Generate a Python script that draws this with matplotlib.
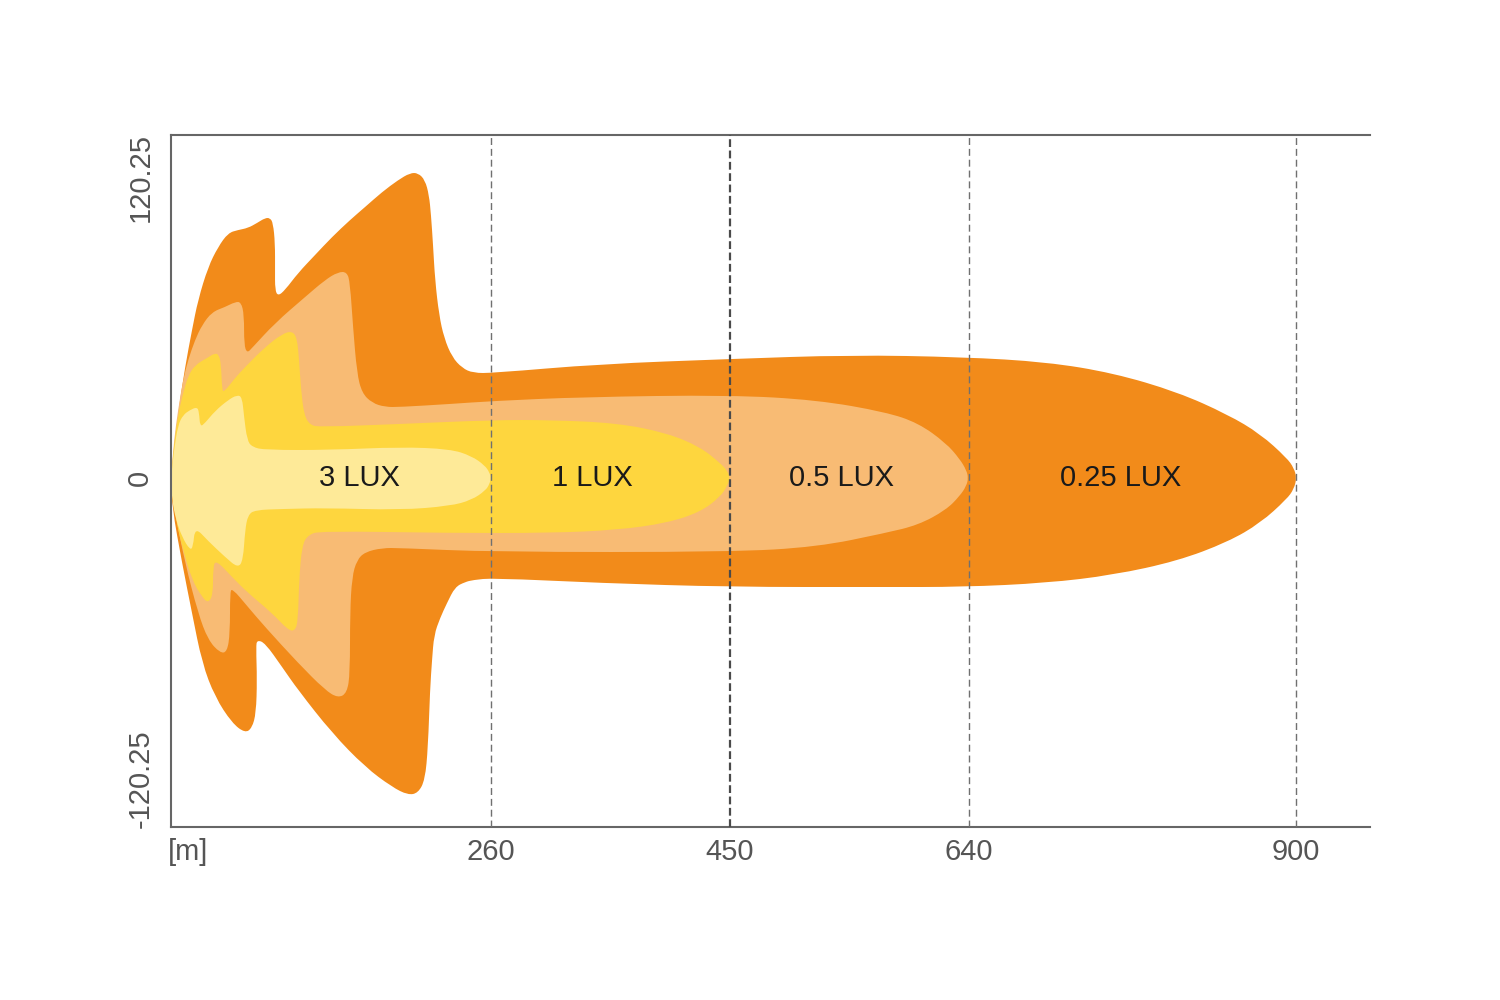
import matplotlib
matplotlib.use("Agg")
import matplotlib.pyplot as plt
from matplotlib.path import Path
from matplotlib.patches import PathPatch

# ---- data (metres: x = distance, y = lateral) ----
levels = ["0.25 LUX", "0.5 LUX", "1 LUX", "3 LUX"]
colors = ["#F28B1A", "#F8BB74", "#FED63E", "#FEEA98"]
reach = [900, 640, 450, 260]

# 0.25 lux outline (upper edge left->tip, then lower edge tip->left)
x_025 = [6.0, 6.8, 11.6, 17.2, 22.7, 27.5, 35.5, 43.4, 51.4, 59.3, 67.2, 74.4, 80.8, 84.7, 87.1,
         88.7, 88.7, 88.7, 91.1, 96.7, 107.0, 120.5, 134.0, 148.3, 160.3, 173.8, 186.6, 196.0,
         202.4, 207.9, 211.1, 212.7, 214.3, 215.9, 219.1, 223.1, 229.4, 237.4, 246.1, 262,
         347.1, 450.4, 545.8, 635.6, 702, 755, 806, 846, 872, 893, 898.6, 900.8, 898.6,
         893, 872, 846, 806, 755, 702, 635.6, 569.6, 450.4, 347.1, 262, 246.1, 239.8, 231.8,
         225.4, 219.9, 215.1, 213.5, 211.9, 210.3, 207.9, 202.4, 194.4, 181.7, 160.3, 134.0,
         107.0, 94.3, 80.8, 74.4, 73.6, 74.4, 73.6, 70.4, 64.9, 54.5, 41.0, 30.7, 22.7, 14.8, 6.8]
y_025 = [0, 2.0, 26.0, 44.4, 59.2, 71.2, 84.4, 92.4, 98.0, 99.2, 100.0, 102.0, 104.0, 104.0, 102.0,
         94.0, 83.2, 75.2, 72.8, 75.2, 82.0, 89.2, 96.4, 103.2, 108.4, 114.4, 119.2, 122.0,
         122.0, 119.2, 113.2, 105.2, 93.2, 79.2, 65.2, 56.0, 48.4, 44.0, 42.0, 42.0,
         45.6, 47.6, 49.2, 48.4, 46.4, 42.0, 34.4, 25.4, 17.6, 8.0, 4.0, 0, -4.4,
         -8.4, -18.0, -25.6, -33.2, -38.8, -42.0, -43.6, -43.6, -43.6, -42.0, -40.0, -40.8, -41.6, -43.6,
         -50.0, -56.0, -62.8, -72.8, -84.8, -107.6, -120.8, -126.0, -126.8, -123.6, -115.6, -102.0,
         -84.8, -75.6, -66.0, -64.8, -67.6, -80.8, -94.0, -100.0, -102.0, -98.0, -87.6, -74.0, -54.0, -34.0, -11.6]

# 0.5 lux outline
x_05 = [6.0, 8.4, 11.6, 15.6, 19.6, 25.1, 30.7, 38.6, 49.0, 56.9, 61.7, 64.1, 64.1, 66.5, 70.4,
        88.7, 112.6, 128.4, 138.8, 145.9, 148.3, 150.7, 153.8, 157.8, 165.9, 176.2, 188.1, 227.8,
        262, 333.5, 450.4, 519.6, 574, 600, 622, 633, 638.2, 639.8, 638.2,
        633, 622, 600, 574, 519.6, 450.4, 262, 188.1, 173.8, 160.3, 153.8, 149.9, 148.3, 148.3,
        145.9, 138.8, 128.4, 107.0, 80.8, 67.2, 54.5, 52.9, 52.9, 50.6, 45.0, 35.5, 27.5, 17.2, 9.2]
y_05 = [0, 15.2, 27.2, 39.2, 47.2, 55.2, 61.2, 66.4, 68.4, 70.4, 70.4, 65.2, 53.2, 50.0, 52.0,
        62.0, 72.4, 79.2, 82.4, 82.4, 78.0, 60.4, 42.0, 34.0, 30.0, 28.4, 28.4, 29.6,
        30.8, 32.4, 33.2, 31.2, 26.4, 22.0, 14.0, 7.6, 3.2, 0, -3.2,
        -7.2, -12.8, -18.8, -22.0, -27.6, -29.6, -29.6, -28.0, -28.0, -29.6, -32.8, -39.6, -54.0, -78.0,
        -86.0, -88.0, -84.8, -74.0, -59.6, -51.6, -44.0, -46.0, -62.0, -69.6, -70.0, -64.8, -54.0, -34.0, -14.0]

# 1 lux outline
x_1 = [6.0, 8.4, 11.6, 15.6, 19.6, 25.1, 34.7, 41.0, 44.2, 45.8, 46.6, 48.2, 56.9, 64.9, 80.8,
       94.3, 102.2, 106.2, 107.8, 109.4, 111.8, 116.5, 124.5, 188.1, 262, 307.3, 360.6, 400.3,
       426.7, 442.5, 448.4, 450.2, 448.4,
       442.5, 426.7, 400.3, 360.6, 307.3, 227.8, 124.5, 115.0, 110.2, 107.8, 107.0, 104.6, 99.0,
       86.3, 67.2, 54.5, 41.8, 39.4, 39.4, 35.5, 30.7, 22.7, 14.8, 9.2]
y_1 = [0, 13.2, 25.2, 34.0, 40.8, 45.2, 48.0, 50.0, 49.2, 45.2, 35.2, 34.4, 40.0, 44.4, 52.4,
       57.6, 58.8, 56.0, 47.2, 35.2, 25.2, 21.2, 20.4, 21.6, 23.2, 23.2, 22.0, 18.0,
       12.4, 6.0, 2.8, 0, -3.0,
       -7.6, -13.6, -18.0, -20.8, -22.0, -22.0, -21.2, -22.8, -26.8, -40.8, -56.8, -61.2, -60.8,
       -54.0, -46.0, -39.6, -32.8, -35.6, -46.8, -50.0, -47.6, -40.8, -27.6, -14.8]

# 3 lux outline
x_3 = [6.0, 8.4, 11.6, 15.6, 21.1, 26.7, 28.3, 29.1, 33.1, 41.0, 51.4, 58.5, 62.5, 64.1, 66.5,
       70.4, 80.8, 132.4, 188.1, 227.8, 245, 255.5, 259.2, 260.3, 259.2,
       256, 245, 227.8, 188.1, 128.4, 94.3, 72.8, 67.2, 64.9, 63.3, 59.3, 49.0, 35.5, 25.1,
       23.5, 21.1, 14.8, 10.0, 6.8]
y_3 = [0, 11.2, 21.2, 25.2, 27.2, 28.4, 26.4, 20.4, 22.0, 26.8, 31.2, 33.2, 32.4, 24.4, 15.2,
       12.4, 11.2, 11.2, 12.4, 11.6, 8.8, 5.0, 2.2, 0, -2.4,
       -5.0, -8.8, -11.2, -12.8, -12.0, -12.4, -12.8, -14.8, -20.8, -32.8, -36.0, -31.6, -25.2, -19.6,
       -27.6, -28.8, -23.6, -16.8, -8.8]

outlines = [(x_025, y_025), (x_05, y_05), (x_1, y_1), (x_3, y_3)]
label_x = [761, 539, 341, 156]

x_ticks = [260, 450, 640, 900]
y_ticks = [-120.25, 0, 120.25]
y_tick_labels = ["-120.25", "0", "120.25"]


def rounded_outline(xs, ys):
    """Closed outline drawn with quadratic Bezier segments, using the read
    points as control points (rounds the corners like the original)."""
    pts = list(zip(xs, ys))
    n = len(pts)
    mids = [((pts[i][0] + pts[(i + 1) % n][0]) / 2, (pts[i][1] + pts[(i + 1) % n][1]) / 2)
            for i in range(n)]
    verts = [mids[-1]]
    codes = [Path.MOVETO]
    for i in range(n):
        verts += [pts[i], mids[i]]
        codes += [Path.CURVE3, Path.CURVE3]
    verts.append(mids[-1])
    codes.append(Path.CLOSEPOLY)
    return Path(verts, codes)


# ---- figure ----
plt.rcParams['font.family'] = ['Liberation Sans', 'DejaVu Sans']
fig = plt.figure(figsize=(15, 10), dpi=100)
ax = fig.add_axes([171/1500, 1-827/1000, (1370-171)/1500, (827-135)/1000])

for (xs, ys), c in zip(outlines, colors):
    ax.add_patch(PathPatch(rounded_outline(xs, ys), facecolor=c, edgecolor="none",
                           linewidth=0, zorder=2))

for xt in x_ticks:
    if xt == 450:
        ax.axvline(xt, color="#4a4a4a", linewidth=1.6, linestyle=(0, (3.5, 1.6)), zorder=3)
    else:
        ax.axvline(xt, color="#707070", linewidth=1.0, linestyle=(0, (5, 2.8)), zorder=3)

for lab, lx in zip(levels, label_x):
    ax.text(lx, 0, lab, ha="center", va="center", fontsize=21, color="#1a1a1a", zorder=4)

ax.set_xlim(6.0, 959.1)
ax.set_ylim(-139.6, 137.2)

ax.set_xticks(x_ticks)
ax.set_xticklabels([str(v) for v in x_ticks])
ax.set_yticks(y_ticks)
ax.set_yticklabels(y_tick_labels, rotation=90, va="center")
ax.tick_params(axis="both", length=0, labelsize=21, labelcolor="#555555")
ax.tick_params(axis="x", pad=8)
ax.tick_params(axis="y", pad=12)

ax.annotate("[m]", xy=(0.0, 0.0), xycoords="axes fraction", xytext=(-2, -8),
            textcoords="offset points", ha="left", va="top", fontsize=21, color="#555555")

for s in ["left", "top", "bottom"]:
    ax.spines[s].set_color("#666666")
    ax.spines[s].set_linewidth(1.5)
ax.spines["right"].set_visible(False)

fig.savefig("out.png", dpi=100, facecolor="white")
